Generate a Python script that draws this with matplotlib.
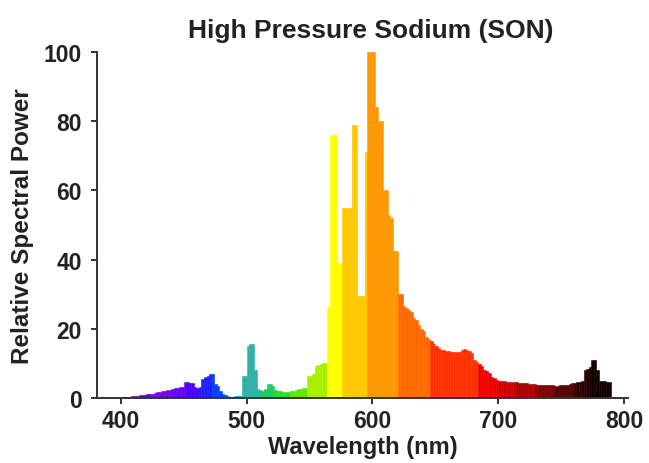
import numpy as np
import matplotlib
matplotlib.use("Agg")
import matplotlib.pyplot as plt

plt.rcParams['font.family'] = ['Liberation Sans', 'DejaVu Sans']

# Spectral data: 2 nm bins, left edges from 380 nm
bin_width = 2
wavelength = np.arange(380, 790, bin_width)
power = [
    0, 0, 0, 0, 0, 0, 0, 0, 0.1, 0.1,
    0.2, 0.3, 0.3,
    0.4, 0.5, 0.6, 0.7, 0.8, 0.9, 1.0,
    1.1, 1.2, 1.3, 1.5, 1.6, 1.7,
    1.9, 2.0, 2.2, 2.4, 2.6, 2.8, 3.0, 3.1, 3.3,
    4.5, 4.6, 4.4, 4.2,
    3.2, 3.0, 3.1,
    5.5, 6.0, 6.3, 6.8, 7.0, 4.0,
    3.5, 2.0,
    1.2, 0.8,
    0.5, 0.4, 0.4, 0.5, 0.5, 0.6,
    6.4, 6.4,
    15.0, 15.6, 15.6, 8.0,
    2.6, 2.2, 2.0, 2.5,
    4.0, 4.0, 3.5,
    2.2, 2.0, 1.9, 1.8,
    1.8, 1.8, 1.9, 2.0,
    2.3, 2.6, 2.7, 2.8, 3.0,
    6.4, 6.4, 6.8,
    9.2, 9.5, 9.8, 10.0, 10.0,
    26.3,
    76, 76, 76,
    39, 39,
    55, 55, 55, 55,
    79, 79,
    29.5, 29.5, 29.5,
    71,
    100, 100, 100,
    84,
    80, 80,
    60, 60,
    53, 52,
    42.5, 42.5,
    30, 30,
    26.5, 26, 25.5, 25,
    23, 22.5,
    21, 20, 19.5,
    17.5, 17, 16.5,
    15.5, 15,
    14.5, 14, 13.8, 13.6, 13.5, 13.4, 13.2, 13.2, 13.4,
    14, 14.2, 13.8, 13.5, 13.0,
    11,
    10.4, 9.8, 9.2,
    8.2, 7.8, 7.2,
    6.2, 5.8,
    5.2, 5.0, 4.9, 4.8,
    4.7, 4.6, 4.6, 4.5, 4.5, 4.4, 4.4, 4.3,
    4.2, 4.1, 4.0, 4.0, 3.9, 3.9, 3.8, 3.8,
    3.8, 3.7, 3.7, 3.6, 3.6, 3.7, 3.7, 3.8, 3.9,
    4.0, 4.2, 4.3, 4.5, 4.6, 4.8,
    8.2, 8.4, 9.0,
    11, 11,
    8,
    5, 5, 4.8,
    4.6, 4.5,
]

# Colour bands (start wavelength of each band and its colour)
band_start = [380, 410, 425, 440, 452, 462, 472, 485, 496, 510, 522, 535, 548,
              564, 576, 596, 620, 646, 684, 700, 715, 730, 745, 760, 772]
band_color = ['#3a0060', '#6a00b0', '#7a00dc', '#6a00f5', '#4a00ff', '#2020ff',
              '#0040ff', '#0090f0', '#30b0a8', '#22c860', '#30d828', '#60e800',
              '#a8f000', '#ffff00', '#ffc800', '#ff9800', '#ff6a00', '#ff3000',
              '#f00000', '#d00000', '#a80000', '#800000', '#580000', '#300000',
              '#100000']

centers = wavelength + bin_width / 2
idx = np.searchsorted(band_start, centers, side='right') - 1
colors = [band_color[i] for i in idx]

fig = plt.figure(figsize=(6.49, 4.64), dpi=100)
ax = fig.add_axes([97/649, 1-399/464, (628-97)/649, (399-53)/464])

ax.bar(wavelength, power, width=bin_width, align='edge', color=colors,
       edgecolor=colors, linewidth=0.4)

ax.set_xlim(380.9, 803.2)
ax.set_ylim(0, 100)
ax.set_xticks([400, 500, 600, 700, 800])
ax.set_yticks([0, 20, 40, 60, 80, 100])

for s in ['top', 'right']:
    ax.spines[s].set_visible(False)
for s in ['left', 'bottom']:
    ax.spines[s].set_color('#333333')
    ax.spines[s].set_linewidth(1.4)

ax.tick_params(axis='both', direction='out', length=4, width=1.4,
               color='#333333', labelsize=16.5, labelcolor='#222222')
ax.tick_params(axis='x', pad=4)
ax.tick_params(axis='y', pad=7)
for lbl in ax.get_xticklabels() + ax.get_yticklabels():
    lbl.set_fontweight('bold')

ax.set_xlabel('Wavelength (nm)', fontsize=17, fontweight='bold', color='#222222', labelpad=2)
ax.set_ylabel('Relative Spectral Power', fontsize=17.5, fontweight='bold', color='#222222', labelpad=7)
fig.text(371/649, 1-31/464, 'High Pressure Sodium (SON)', ha='center', va='center',
         fontsize=19, fontweight='bold', color='#222222')

fig.savefig('out.png', dpi=100)
